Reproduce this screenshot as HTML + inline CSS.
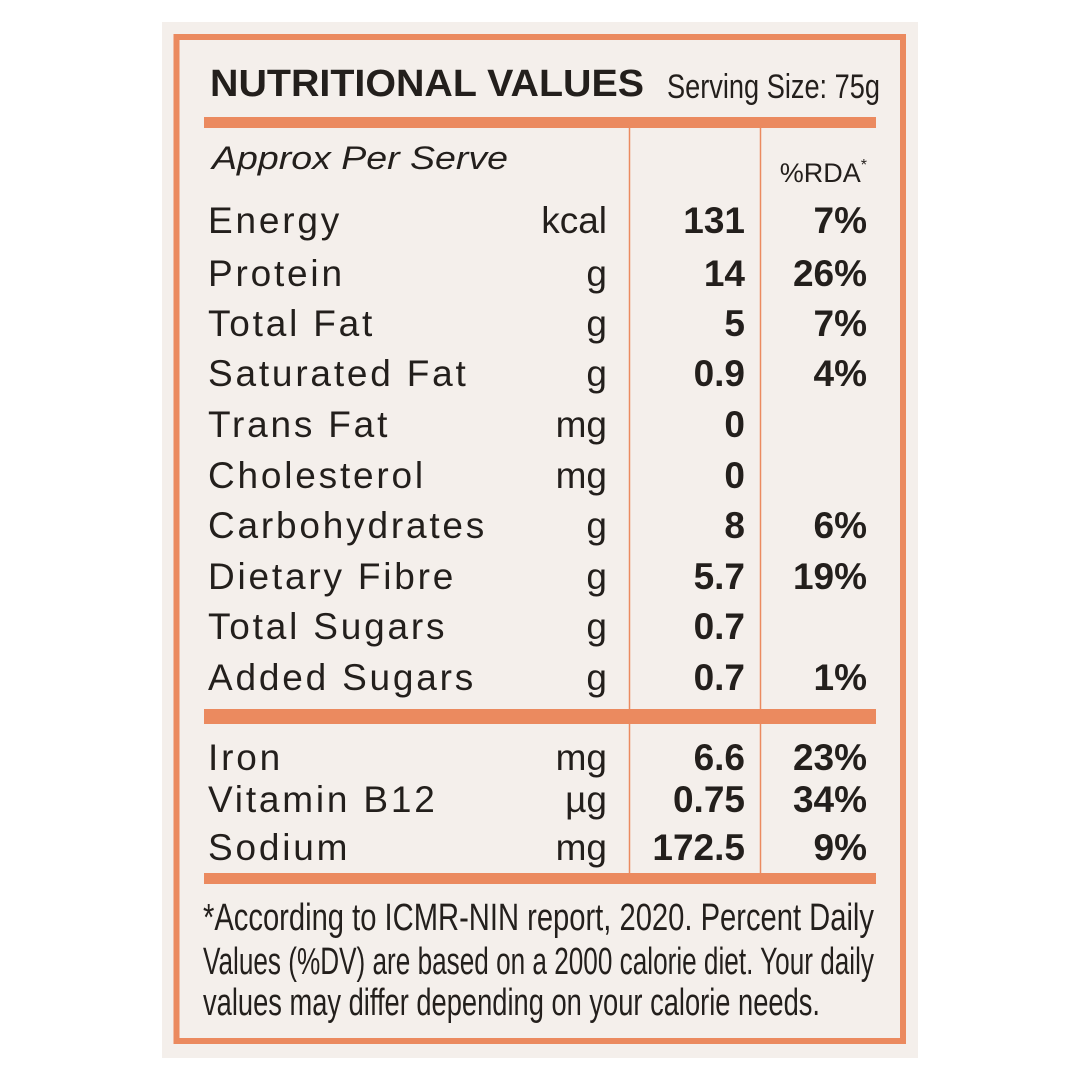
<!DOCTYPE html>
<html><head><meta charset="utf-8"><style>
html,body{margin:0;padding:0;background:#fff;}
svg{display:block;}
text{font-family:"Liberation Sans",sans-serif;fill:#231f1c;}
</style></head><body>
<svg id="chart" width="1080" height="1080" viewBox="0 0 1080 1080">
<rect x="162" y="22" width="756" height="1036" fill="#f4efeb"/>
<rect x="176.5" y="37" width="726.5" height="1004" fill="none" stroke="#eb8a5f" stroke-width="6"/>
<text x="210" y="96" font-size="38" font-weight="bold" textLength="434" lengthAdjust="spacingAndGlyphs">NUTRITIONAL VALUES</text>
<text x="667" y="98" font-size="34" textLength="213" lengthAdjust="spacingAndGlyphs">Serving Size: 75g</text>
<rect x="204" y="117" width="672" height="11" fill="#eb8a5f"/>
<rect x="204" y="709" width="672" height="15" fill="#eb8a5f"/>
<rect x="204" y="873" width="672" height="11" fill="#eb8a5f"/>
<line x1="629.5" y1="128" x2="629.5" y2="709" stroke="#eb8a5f" stroke-width="1.5"/>
<line x1="760.5" y1="128" x2="760.5" y2="709" stroke="#eb8a5f" stroke-width="1.5"/>
<line x1="629.5" y1="724" x2="629.5" y2="873" stroke="#eb8a5f" stroke-width="1.5"/>
<line x1="760.5" y1="724" x2="760.5" y2="873" stroke="#eb8a5f" stroke-width="1.5"/>
<text x="212" y="169" font-size="32" font-style="italic" textLength="296" lengthAdjust="spacingAndGlyphs">Approx Per Serve</text>
<text x="867" y="182" font-size="27" text-anchor="end">%RDA<tspan font-size="16" dy="-12">*</tspan></text>
<g id="rows"></g>
<text x="203" y="930" font-size="38" textLength="671" lengthAdjust="spacingAndGlyphs">*According  to  ICMR-NIN  report,  2020.  Percent  Daily</text>
<text x="203" y="974" font-size="38" textLength="671" lengthAdjust="spacingAndGlyphs">Values (%DV) are based on a 2000 calorie diet. Your daily</text>
<text x="203" y="1015" font-size="38" textLength="617" lengthAdjust="spacingAndGlyphs">values may differ depending on your calorie needs.</text>
</svg>
<script>
const nutrients = ["Energy","Protein","Total Fat","Saturated Fat","Trans Fat","Cholesterol","Carbohydrates","Dietary Fibre","Total Sugars","Added Sugars","Iron","Vitamin B12","Sodium"];
const units = ["kcal","g","g","g","mg","mg","g","g","g","g","mg","µg","mg"];
const amounts = ["131","14","5","0.9","0","0","8","5.7","0.7","0.7","6.6","0.75","172.5"];
const rda = ["7%","26%","7%","4%","","","6%","19%","","1%","23%","34%","9%"];
const rowBaselines = [233,286,336,386,437,488,538,589,639,690,770,812,860];
const ns="http://www.w3.org/2000/svg";
const g=document.getElementById('rows');
function mk(x,y,txt,anchor,weight,name,ls){
  const t=document.createElementNS(ns,'text');
  t.setAttribute('x',x);t.setAttribute('y',y);
  t.setAttribute('font-size','37');
  if(anchor)t.setAttribute('text-anchor',anchor);
  if(weight)t.setAttribute('font-weight',weight);
  if(ls)t.setAttribute('letter-spacing',ls);
  
  
  t.textContent=txt;g.appendChild(t);
}
nutrients.forEach((n,i)=>{
  const y=rowBaselines[i];
  const k=n.toLowerCase().replace(/\s+/g,'-');
  mk(208,y,n,null,null,k+'-label','2.8');
  mk(607,y,units[i],'end',null,k+'-unit');
  mk(745,y,amounts[i],'end','bold',k+'-amount');
  if(rda[i])mk(867,y,rda[i],'end','bold',k+'-rda');
});
</script>
</body></html>
